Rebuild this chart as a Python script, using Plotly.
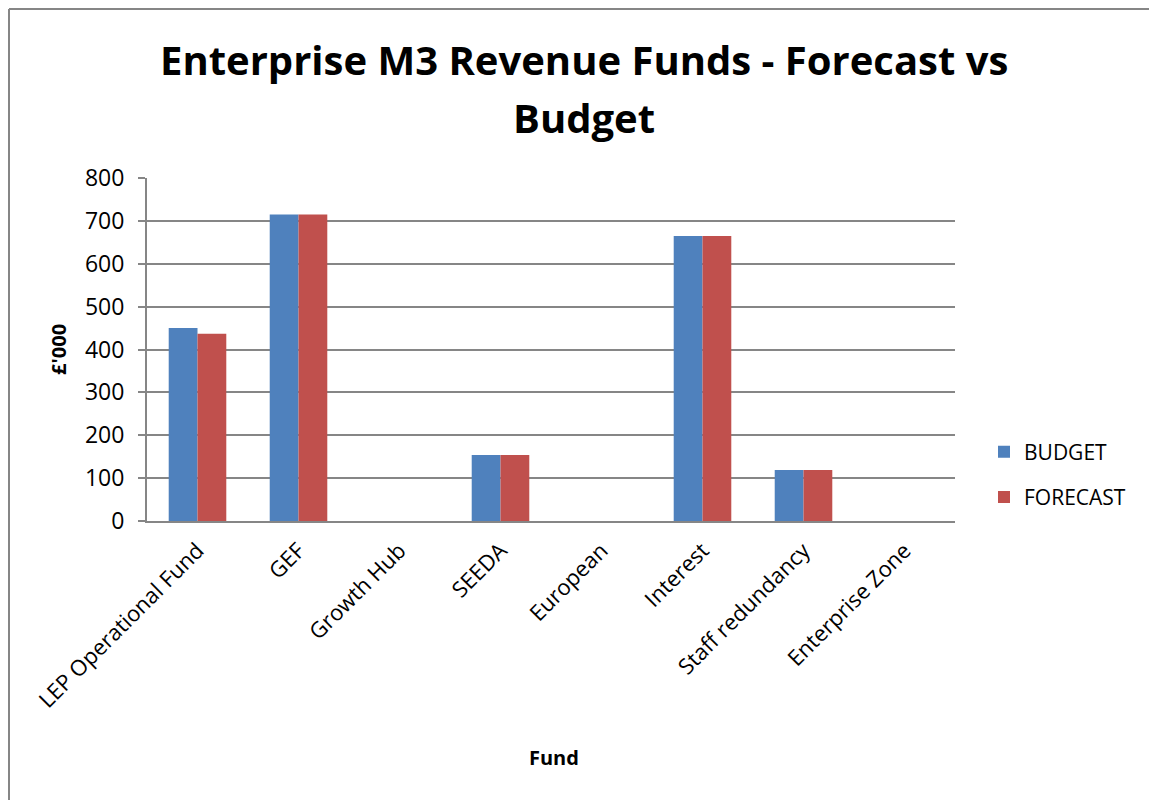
import plotly.graph_objects as go

categories = ["LEP Operational Fund", "GEF", "Growth Hub", "SEEDA", "European",
              "Interest", "Staff redundancy", "Enterprise Zone"]
budget = [450, 715, 0, 154, 0, 665, 119, 0]
forecast = [437, 715, 0, 154, 0, 665, 119, 0]
y_ticks = [0, 100, 200, 300, 400, 500, 600, 700, 800]

FONT = "Open Sans"
W, H = 1157, 800
ML, MT, PW, PH = 139, 170, 808, 343
MR = W - ML - PW
MB = H - MT - PH


def px(x):
    return (x - ML) / PW


def py(y):
    return (MT + PH - y) / PH


fig = go.Figure()
fig.add_trace(go.Bar(name="BUDGET", x=categories, y=budget,
                     marker=dict(color="#4F81BD", line=dict(width=0)),
                     legendgroup="b"))
fig.add_trace(go.Bar(name="FORECAST", x=categories, y=forecast,
                     marker=dict(color="#C0504D", line=dict(width=0)),
                     legendgroup="f"))

fig.update_layout(
    width=W, height=H,
    paper_bgcolor="white", plot_bgcolor="white",
    margin=dict(l=ML, r=MR, t=MT, b=MB),
    barmode="group", bargap=0.43, bargroupgap=0,
    font=dict(family=FONT, color="black", size=21),
    legend=dict(x=px(976), y=py(466.5), xanchor="left", yanchor="middle",
                font=dict(family=FONT, size=21), tracegroupgap=15,
                bgcolor="rgba(0,0,0,0)"),
    xaxis=dict(tickangle=-45, showline=True, linecolor="#868686", linewidth=2,
               ticks="", showgrid=False, ticklabelstandoff=6,
               tickfont=dict(family=FONT, size=22)),
    yaxis=dict(range=[0, 800], tickvals=y_ticks, showline=True, linecolor="#868686",
               linewidth=2, ticks="outside", ticklen=7, tickcolor="#868686", tickwidth=2,
               showgrid=True, gridcolor="#868686", gridwidth=2, zeroline=False,
               ticklabelstandoff=9,
               tickfont=dict(family=FONT, size=23)),
    annotations=[
        dict(text="<b>Enterprise M3 Revenue Funds - Forecast vs</b>", xref="paper", yref="paper",
             x=px(576), y=py(52), xanchor="center", yanchor="middle", showarrow=False,
             font=dict(family=FONT, size=40, color="black")),
        dict(text="<b>Budget</b>", xref="paper", yref="paper",
             x=px(576), y=py(109), xanchor="center", yanchor="middle", showarrow=False,
             font=dict(family=FONT, size=40, color="black")),
        dict(text="<b>£'000</b>", xref="paper", yref="paper", textangle=-90,
             x=px(50), y=py(342), xanchor="center", yanchor="middle", showarrow=False,
             font=dict(family=FONT, size=20, color="black")),
        dict(text="<b>Fund</b>", xref="paper", yref="paper",
             x=px(546), y=py(749), xanchor="center", yanchor="middle", showarrow=False,
             font=dict(family=FONT, size=20, color="black")),
    ],
    shapes=[
        dict(type="line", xref="paper", yref="paper",
             x0=px(1), x1=px(W), y0=py(1), y1=py(1),
             line=dict(color="#868686", width=2), layer="below"),
        dict(type="line", xref="paper", yref="paper",
             x0=px(1), x1=px(1), y0=py(1), y1=py(H),
             line=dict(color="#868686", width=2), layer="below"),
    ],
)

fig.write_html("out.html")
